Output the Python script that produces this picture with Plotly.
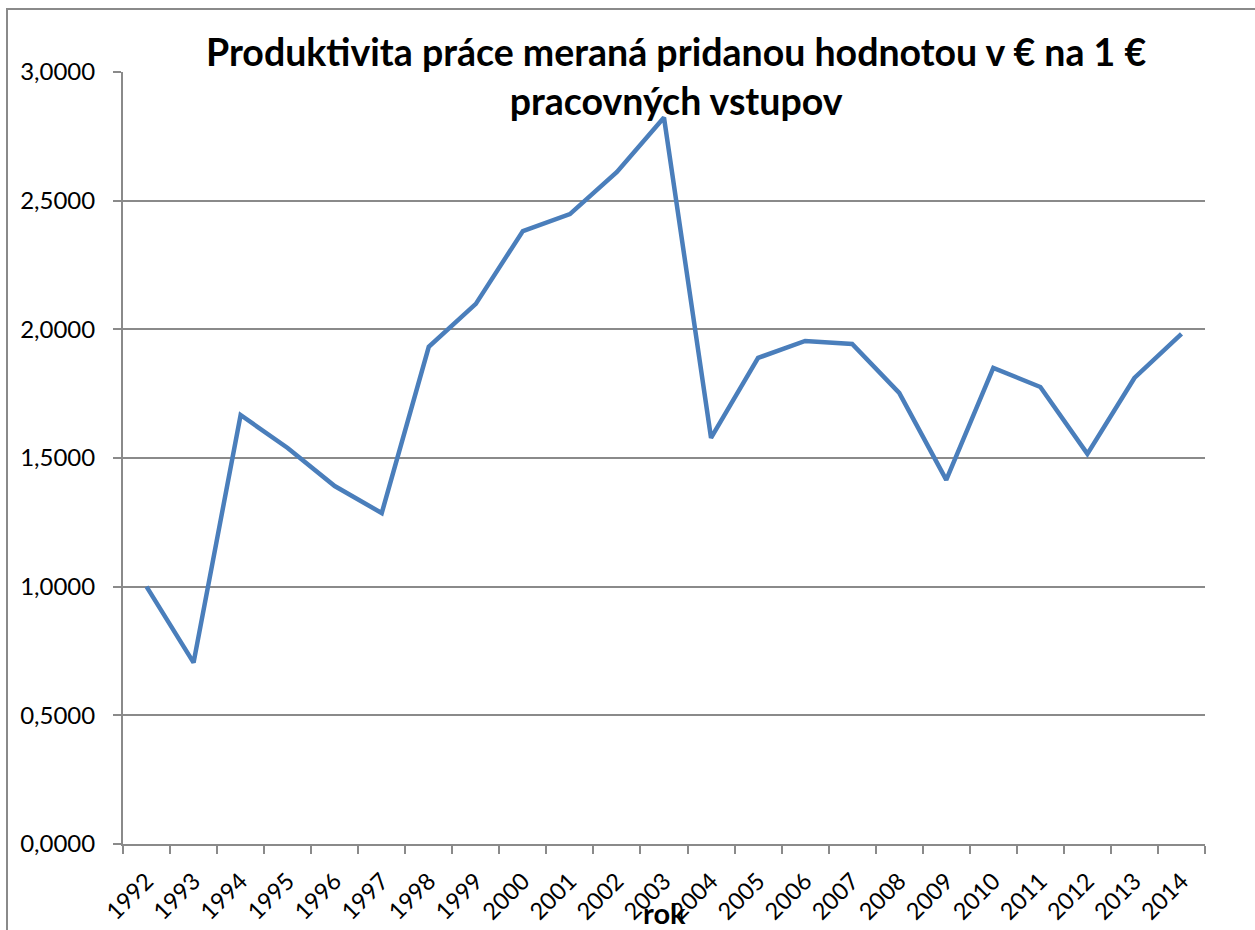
import plotly.graph_objects as go

years = [str(y) for y in range(1992, 2015)]
values = [1.0000, 0.7050, 1.6670, 1.5390, 1.3910, 1.2860, 1.9320, 2.0990, 2.3820, 2.4480,
          2.6120, 2.8230, 1.5780, 1.8890, 1.9550, 1.9430, 1.7530, 1.4150, 1.8500, 1.7760,
          1.5160, 1.8110, 1.9820]
title_text = "Produktivita práce meraná pridanou hodnotou v € na 1 €<br>pracovných vstupov"
x_title = "rok"

W, H = 1255, 930
L, R, T, B = 123, 1205, 72, 844
pw, ph = R - L, B - T

fig = go.Figure()
fig.add_trace(go.Scatter(x=years, y=values, mode="lines",
                         line=dict(color="#4A7EBB", width=4.5), showlegend=False))

grid = "#8A8A8A"
fig.update_layout(
    width=W, height=H,
    margin=dict(l=L, r=W - R, t=T, b=H - B, pad=0),
    paper_bgcolor="white", plot_bgcolor="white",
    separators=",.",
    font=dict(family="Lato", color="black", size=24),
    xaxis=dict(type="category", tickson="boundaries", ticks="outside", ticklen=8,
               tickcolor=grid, tickwidth=2, showline=True, linecolor=grid, linewidth=2,
               showgrid=False, tickangle=-45, tickfont=dict(size=23.5), range=[-0.5, 22.5],
               ticklabelstandoff=12, automargin=False),
    yaxis=dict(range=[0, 3], dtick=0.5, tick0=0, tickformat=".4f", ticks="outside",
               ticklen=8, tickcolor=grid, tickwidth=2, showline=True, linecolor=grid,
               linewidth=2, showgrid=True, gridcolor=grid, gridwidth=2,
               zeroline=False, ticklabelstandoff=13, tickfont=dict(size=24),
               automargin=False),
    annotations=[
        dict(text="<b>" + title_text + "</b>", x=(676 - L) / pw, y=(B - 76) / ph,
             xref="paper", yref="paper", xanchor="center", yanchor="middle",
             showarrow=False, font=dict(size=37.5, family="Lato"), align="center"),
        dict(text="<b>" + x_title + "</b>", x=(664 - L) / pw, y=(B - 912) / ph,
             xref="paper", yref="paper", xanchor="center", yanchor="middle",
             showarrow=False, font=dict(size=29, family="Lato")),
    ],
    shapes=[
        dict(type="rect", xref="paper", yref="paper",
             x0=(7 - L) / pw, x1=(1270 - L) / pw, y0=(B - 945) / ph, y1=(B - 9) / ph,
             line=dict(color=grid, width=2), fillcolor="rgba(0,0,0,0)", layer="below"),
    ],
)

fig.write_html("out.html", config={"displayModeBar": False},
               post_script="document.body.style.margin='0';")
